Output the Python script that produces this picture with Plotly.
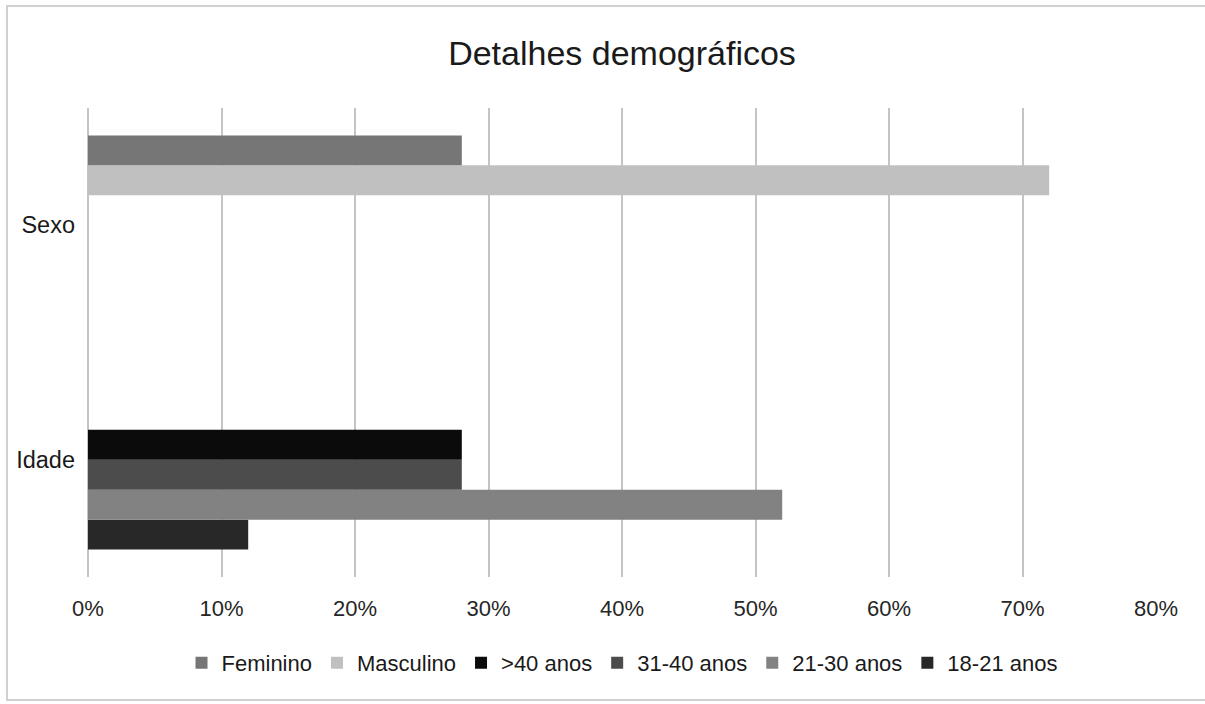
import plotly.graph_objects as go

categories = ["Idade", "Sexo"]
series_names = ["Feminino", "Masculino", ">40 anos", "31-40 anos", "21-30 anos", "18-21 anos"]
feminino = [0, 0.28]
masculino = [0, 0.72]
mais_40 = [0.28, 0]
de_31_40 = [0.28, 0]
de_21_30 = [0.52, 0]
de_18_21 = [0.12, 0]
series_values = [feminino, masculino, mais_40, de_31_40, de_21_30, de_18_21]
colors = ["#767676", "#c0c0c0", "#0b0b0b", "#4c4c4c", "#828282", "#282828"]
x_ticks = [0, 0.1, 0.2, 0.3, 0.4, 0.5, 0.6, 0.7, 0.8]
x_tick_labels = ["0%", "10%", "20%", "30%", "40%", "50%", "60%", "70%", "80%"]

fig = go.Figure()
# add in reverse so the first legend series is at the top of each group
for name, vals, col in reversed(list(zip(series_names, series_values, colors))):
    fig.add_trace(go.Bar(
        y=categories, x=vals, name=name, orientation="h",
        marker=dict(color=col, line=dict(width=0)),
    ))

W, H = 1205, 704
l, r, t, b = 88, 49, 108, 127

fig.update_layout(
    width=W, height=H,
    margin=dict(l=l, r=r, t=t, b=b),
    paper_bgcolor="white", plot_bgcolor="white",
    barmode="group", bargap=0.234, bargroupgap=0,
    font=dict(family="Liberation Sans, Arial, sans-serif", color="#262626"),
    title=dict(text="Detalhes demográficos", x=0.5, xref="paper", y=(H - 53) / H, yref="container",
               yanchor="middle", font=dict(size=34, color="#1a1a1a")),
    legend=dict(orientation="h", traceorder="reversed", x=0.5, xanchor="center",
                y=(H - 663 - b) / (H - t - b), yanchor="middle",
                font=dict(size=22, color="#1a1a1a"), itemwidth=30),
    showlegend=True,
)
fig.update_xaxes(range=[0, 0.8], tickvals=x_ticks, ticktext=x_tick_labels,
                 showgrid=True, gridcolor="#c4c4c4", gridwidth=2,
                 zeroline=True, zerolinecolor="#c4c4c4", zerolinewidth=2,
                 showline=False, ticks="", tickfont=dict(size=22, color="#262626"),
                 ticklabelstandoff=16, fixedrange=True)
fig.update_yaxes(categoryorder="array", categoryarray=categories,
                 showgrid=False, zeroline=False, showline=False, ticks="",
                 tickfont=dict(size=23.5, color="#1a1a1a"), ticklabelstandoff=12,
                 fixedrange=True)

# outer chart border (right edge lies outside the picture, as in the reference)
pw = W - l - r
ph = H - t - b
fig.add_shape(type="rect", xref="paper", yref="paper",
              x0=(7 - l) / pw, x1=(W + 40 - l) / pw,
              y0=(H - 700 - b) / ph, y1=(H - 6 - b) / ph,
              line=dict(color="#d0d0d0", width=2), fillcolor="rgba(0,0,0,0)", layer="below")

fig.write_html("out.html", config={"displayModeBar": False},
               post_script="document.body.style.margin='0';document.body.style.overflow='hidden';")
